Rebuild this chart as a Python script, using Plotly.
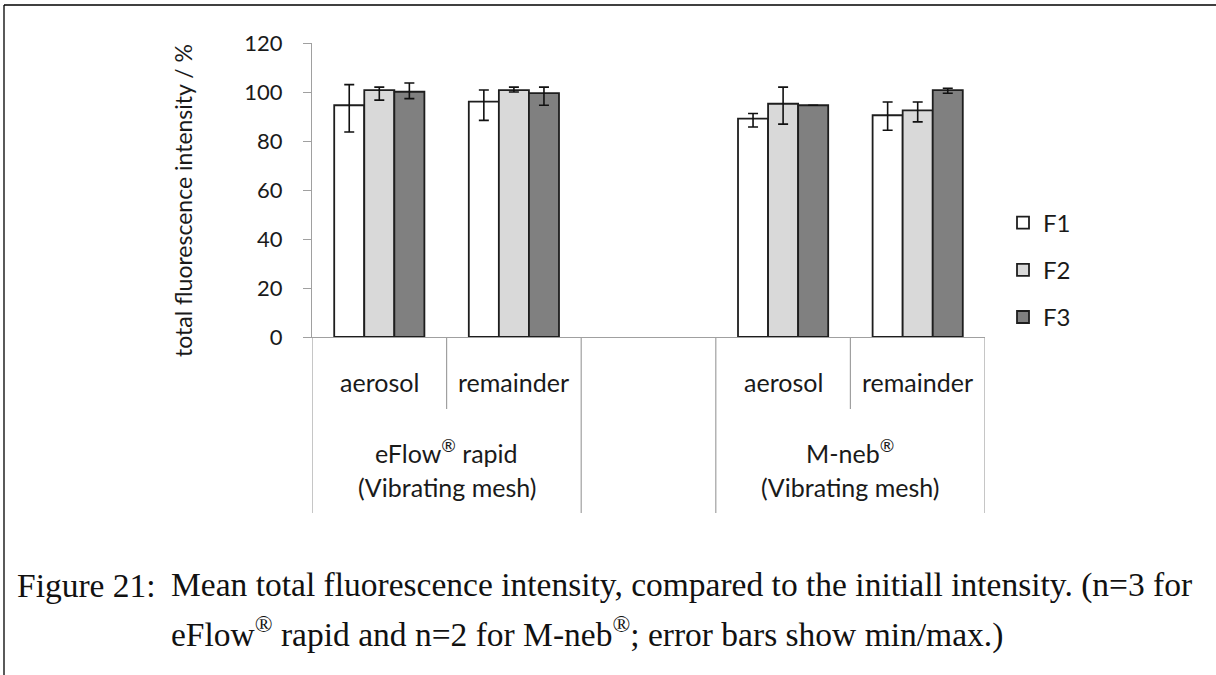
import plotly.graph_objects as go

# ---------------- data ----------------
slots = ["aerosol", "remainder", "", "aerosol", "remainder"]
devices = ["eFlow<sup>®</sup> rapid", "M-neb<sup>®</sup>"]
device_sub = ["(Vibrating mesh)", "(Vibrating mesh)"]
series = ["F1", "F2", "F3"]

F1 = [94.6, 96.1, 89.1, 90.5]
F1_max = [103.0, 100.8, 91.2, 95.9]
F1_min = [83.7, 88.4, 85.7, 84.4]

F2 = [100.8, 100.8, 95.2, 92.5]
F2_max = [102.0, 102.0, 102.0, 95.9]
F2_min = [96.7, 100.0, 86.9, 87.8]

F3 = [100.1, 99.5, 94.6, 100.8]
F3_max = [103.7, 102.0, 94.6, 101.5]
F3_min = [97.3, 94.6, 94.6, 99.5]

y_ticks = [0, 20, 40, 60, 80, 100, 120]
y_title = "total fluorescence intensity / %"
caption_label = "Figure 21:"
caption_1 = "Mean total fluorescence intensity, compared to the initiall intensity. (n=3 for"
caption_2 = "eFlow<sup>®</sup> rapid and n=2 for M-neb<sup>®</sup>; error bars show min/max.)"

# ---------------- styling ----------------
FONT = "Lato"
TXT = "#1a1a1a"
fills = ["#FFFFFF", "#D9D9D9", "#808080"]
GRAY = "#A0A0A0"

W, H = 1216, 675
L, R = 312, 985
T, B = 43, 337
pw, ph = R - L, B - T


def px_x(p):
    return (p - L) / pw


def px_y(p):
    return (B - p) / ph


x_pos = [i for i, s in enumerate(slots) if s]

fig = go.Figure()
vals = [(F1, F1_max, F1_min), (F2, F2_max, F2_min), (F3, F3_max, F3_min)]
for k, (name, (m, mx, mn)) in enumerate(zip(series, vals)):
    fig.add_trace(go.Bar(
        x=x_pos, y=m, name=name, legendgroup=name,
        marker=dict(color=fills[k], line=dict(color="#1E1E1E", width=1.8)),
        error_y=dict(type="data", symmetric=False,
                     array=[a - b for a, b in zip(mx, m)],
                     arrayminus=[b - c for b, c in zip(m, mn)],
                     color="#111111", thickness=1.6, width=5),
    ))

shapes = []
# category separators under the axis
n = len(slots)
for i in range(n + 1):
    b = i - 0.5
    left = slots[i - 1] if i - 1 >= 0 else ""
    right = slots[i] if i < n else ""
    short = bool(left) and bool(right)
    y1 = px_y(409) if short else px_y(513)
    shapes.append(dict(type="line", xref="x", yref="paper", x0=b, x1=b, y0=0, y1=y1,
                       line=dict(color=GRAY, width=1.2)))
# page frame (top and left)
shapes.append(dict(type="line", xref="paper", yref="paper", x0=px_x(4), x1=px_x(W), y0=px_y(5), y1=px_y(5),
                   line=dict(color="black", width=1.3)))
shapes.append(dict(type="line", xref="paper", yref="paper", x0=px_x(4), x1=px_x(4), y0=px_y(5), y1=px_y(H),
                   line=dict(color="black", width=1.3)))

annotations = []
for i, s in enumerate(slots):
    if s:
        annotations.append(dict(x=i, y=px_y(382), xref="x", yref="paper", text=s, showarrow=False,
                                font=dict(family=FONT, size=25, color=TXT), xanchor="center", yanchor="middle"))
group_centers = [0.5, 3.5]
for c, d, sub in zip(group_centers, devices, device_sub):
    annotations.append(dict(x=c, y=px_y(452), xref="x", yref="paper", text=d, showarrow=False,
                            font=dict(family=FONT, size=25, color=TXT), xanchor="center", yanchor="middle"))
    annotations.append(dict(x=c, y=px_y(487), xref="x", yref="paper", text=sub, showarrow=False,
                            font=dict(family=FONT, size=25, color=TXT), xanchor="center", yanchor="middle"))
annotations.append(dict(x=px_x(183), y=px_y(201), xref="paper", yref="paper", text=y_title, textangle=-90,
                        showarrow=False, font=dict(family=FONT, size=23, color=TXT),
                        xanchor="center", yanchor="middle"))
CAP_FONT = dict(family="Liberation Serif", size=33.5, color="#111111")
annotations.append(dict(x=px_x(15), y=px_y(585), xref="paper", yref="paper", text=caption_label,
                        showarrow=False, font=CAP_FONT, xanchor="left", yanchor="middle"))
annotations.append(dict(x=px_x(169), y=px_y(585), xref="paper", yref="paper", text=caption_1,
                        showarrow=False, font=CAP_FONT, xanchor="left", yanchor="middle"))
annotations.append(dict(x=px_x(169), y=px_y(632), xref="paper", yref="paper", text=caption_2,
                        showarrow=False, font=CAP_FONT, xanchor="left", yanchor="middle"))

fig.update_layout(
    width=W, height=H,
    margin=dict(l=L, r=W - R, t=T, b=H - B, pad=0),
    paper_bgcolor="white", plot_bgcolor="white",
    barmode="group", bargap=0.33, bargroupgap=0,
    showlegend=True,
    legend=dict(x=px_x(1003), y=px_y(270), xanchor="left", yanchor="middle",
                font=dict(family=FONT, size=24, color=TXT),
                tracegroupgap=13, bgcolor="rgba(0,0,0,0)", itemwidth=30),
    shapes=shapes,
    annotations=annotations,
    font=dict(family=FONT, size=22, color=TXT),
)
fig.update_xaxes(range=[-0.5, n - 0.5], showline=True, linecolor=GRAY, linewidth=1.2,
                 showticklabels=False, ticks="", showgrid=False, zeroline=False, fixedrange=True)
fig.update_yaxes(range=[0, 120], tickvals=y_ticks, showline=True, linecolor=GRAY, linewidth=1.2,
                 ticks="outside", ticklen=8, tickcolor=GRAY, tickwidth=1.2, showgrid=False, zeroline=False,
                 ticklabelstandoff=16, tickfont=dict(family=FONT, size=22, color=TXT))

fig.write_html("out.html", config={"displayModeBar": False},
               post_script="document.body.style.margin='0';document.body.style.overflow='hidden';")
